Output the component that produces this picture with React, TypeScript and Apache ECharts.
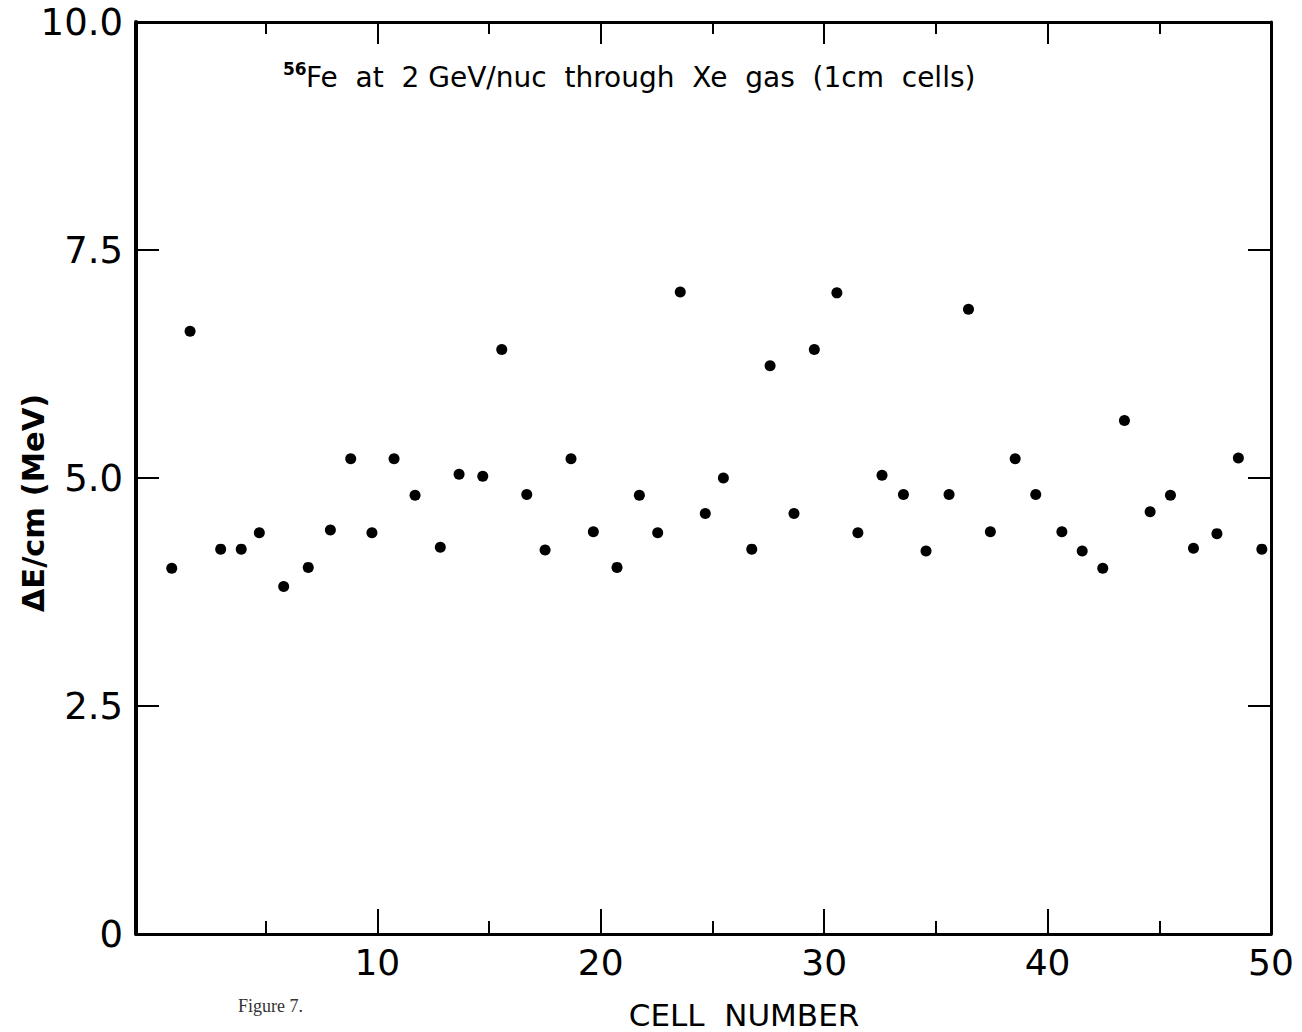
import React, { useEffect, useRef } from "react";
import * as echarts from "echarts";

// Cell positions and energy loss per cell
const cellX = [
  0.8, 1.62, 2.99, 3.91, 4.72, 5.81, 6.91, 7.9, 8.81, 9.76,
  10.75, 11.69, 12.82, 13.66, 14.72, 15.57, 16.69, 17.51, 18.67, 19.67,
  20.73, 21.73, 22.55, 23.56, 24.68, 25.49, 26.76, 27.58, 28.65, 29.56,
  30.57, 31.51, 32.59, 33.55, 34.56, 35.59, 36.46, 37.44, 38.55, 39.47,
  40.64, 41.55, 42.47, 43.44, 44.59, 45.5, 46.53, 47.58, 48.54, 49.59,
];
const deltaE = [
  4.01, 6.61, 4.22, 4.22, 4.4, 3.81, 4.02, 4.43, 5.21, 4.4,
  5.21, 4.81, 4.24, 5.04, 5.02, 6.41, 4.82, 4.21, 5.21, 4.41,
  4.02, 4.81, 4.4, 7.04, 4.61, 5.0, 4.22, 6.23, 4.61, 6.41,
  7.03, 4.4, 5.03, 4.82, 4.2, 4.82, 6.85, 4.41, 5.21, 4.82,
  4.41, 4.2, 4.01, 5.63, 4.63, 4.81, 4.23, 4.39, 5.22, 4.22,
];
const xLabelValues = [10, 20, 30, 40, 50];
const xMajorTicks = [10, 20, 30, 40];
const xMinorTicks = [5, 15, 25, 35, 45];
const yTicks = [2.5, 5, 7.5];

const titleSup = "56";
const titleMain = "Fe  at  2 GeV/nuc  through  Xe  gas  (1cm  cells)";
const yName = "ΔE/cm (MeV)";
const xName = "CELL  NUMBER";
const caption = "Figure 7.";

const FONT = "DejaVu Sans";

export default function App() {
  const ref = useRef<HTMLDivElement>(null);
  useEffect(() => {
    document.body.style.margin = "0";
    if (!ref.current) return;
    const chart = echarts.init(ref.current, null, { renderer: "svg" });
    const lineStyle = { color: "#000", width: 3 };
    const xBase = {
      type: "value" as const,
      min: -0.8,
      max: 50,
      splitLine: { show: false },
    };
    const yBase = {
      type: "value" as const,
      min: 0,
      max: 10,
      interval: 2.5,
      splitLine: { show: false },
    };
    chart.setOption({
      animation: false,
      backgroundColor: "#fff",
      grid: { left: 136, top: 22, width: 1135, height: 912, containLabel: false },
      xAxis: [
        {
          ...xBase,
          position: "bottom",
          axisLine: { show: true, onZero: false, lineStyle },
          axisTick: { show: true, inside: true, length: 25, customValues: xMajorTicks, lineStyle: { color: "#000", width: 2 } },
          axisLabel: {
            show: true,
            customValues: xLabelValues,
            color: "#000",
            fontFamily: FONT,
            fontSize: 36,
            margin: 10,
          },
        },
        {
          ...xBase,
          position: "bottom",
          axisLine: { show: false, onZero: false },
          axisTick: { show: true, inside: true, length: 13, customValues: xMinorTicks, lineStyle: { color: "#000", width: 2 } },
          axisLabel: { show: false },
        },
        {
          ...xBase,
          position: "top",
          axisLine: { show: true, onZero: false, lineStyle },
          axisTick: { show: true, inside: true, length: 22, customValues: xMajorTicks, lineStyle: { color: "#000", width: 2 } },
          axisLabel: { show: false },
        },
        {
          ...xBase,
          position: "top",
          axisLine: { show: false, onZero: false },
          axisTick: { show: true, inside: true, length: 12, customValues: xMinorTicks, lineStyle: { color: "#000", width: 2 } },
          axisLabel: { show: false },
        },
      ],
      yAxis: [
        {
          ...yBase,
          position: "left",
          axisLine: { show: true, onZero: false, lineStyle: { color: "#000", width: 4 } },
          axisTick: { show: true, inside: true, length: 23, customValues: yTicks, lineStyle: { color: "#000", width: 2 } },
          axisLabel: {
            show: true,
            color: "#000",
            fontFamily: FONT,
            fontSize: 37,
            margin: 13,
            formatter: (v: number) => (v === 0 ? "0" : v.toFixed(1)),
          },
        },
        {
          ...yBase,
          position: "right",
          axisLine: { show: true, onZero: false, lineStyle },
          axisTick: { show: true, inside: true, length: 23, customValues: yTicks, lineStyle: { color: "#000", width: 2 } },
          axisLabel: { show: false },
        },
      ],
      series: [
        {
          type: "scatter",
          xAxisIndex: 0,
          yAxisIndex: 0,
          symbol: "circle",
          symbolSize: 11,
          itemStyle: { color: "#000", opacity: 1 },
          data: cellX.map((x, i) => [x, deltaE[i]]),
        },
      ],
      graphic: [
        {
          type: "text",
          left: 283,
          top: 60,
          style: { text: titleSup, fontFamily: FONT, fontSize: 17, fontWeight: "bold", fill: "#000" },
        },
        {
          type: "text",
          x: 306,
          y: 77,
          style: {
            text: titleMain,
            fontFamily: FONT,
            fontSize: 28,
            fill: "#000",
            align: "left",
            verticalAlign: "middle",
          },
        },
        {
          type: "text",
          x: 33,
          y: 503,
          rotation: Math.PI / 2,
          style: {
            text: yName,
            fontFamily: FONT,
            fontSize: 30.5,
            fontWeight: "bold",
            fill: "#000",
            align: "center",
            verticalAlign: "middle",
          },
        },
        {
          type: "text",
          x: 744,
          y: 1015,
          style: {
            text: xName,
            fontFamily: FONT,
            fontSize: 31,
            fill: "#000",
            align: "center",
            verticalAlign: "middle",
          },
        },
        {
          type: "text",
          x: 238,
          y: 1006,
          style: {
            text: caption,
            fontFamily: "Liberation Serif",
            fontSize: 18,
            fill: "#333",
            align: "left",
            verticalAlign: "middle",
          },
        },
      ],
    });
    return () => chart.dispose();
  }, []);
  return <div ref={ref} style={{ width: 1302, height: 1032 }} />;
}
